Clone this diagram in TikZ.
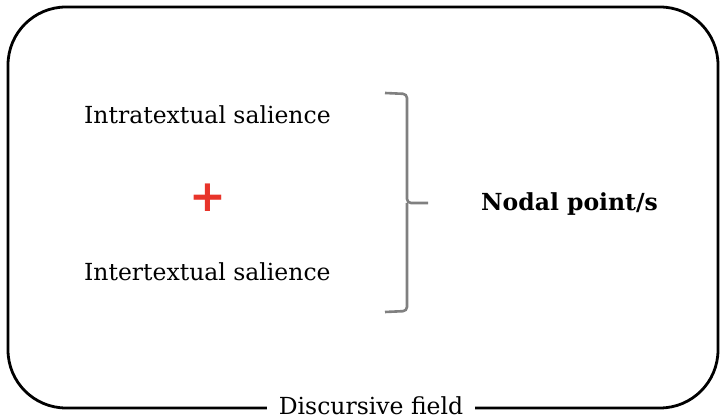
\documentclass[tikz,border=0pt]{standalone}
\usepackage{fontspec}
\setmainfont{DejaVu Serif}
\newfontfamily\plusfont{DejaVu Sans}
\definecolor{plusred}{HTML}{E8342A}
\definecolor{bracegray}{HTML}{808080}
\tikzset{
  label text/.style={font=\fontsize{23.5}{26}\selectfont, inner sep=0pt},
  frame/.style={draw=black, line width=2.8pt, rounded corners=58pt},
  bracket/.style={draw=bracegray, line width=2.6pt, rounded corners=4pt},
}
\begin{document}
\begin{tikzpicture}[x=1pt,y=1pt]
\useasboundingbox (0,0) rectangle (720,419);
% outer field
\draw[frame] (8,11) rectangle (718,412);
\node[label text, fill=white, inner xsep=12pt, inner ysep=4pt] (field) at (371,13) {Discursive field};
% the two kinds of salience
\node[label text, anchor=west] (intra) at (84,304) {Intratextual salience};
\node[label text, anchor=west] (inter) at (84,147) {Intertextual salience};
\node[text=plusred, font=\plusfont\bfseries\fontsize{44}{44}\selectfont, inner sep=0pt] (plus) at (208,221) {+};
% bracket joining them
\coordinate (btop) at (385,326);
\coordinate (bmid) at (407,216);
\coordinate (bbot) at (385,107);
\coordinate (btip) at (428,216);
\draw[bracket] (btop) -- (407,325) -- (bmid) -- (btip);
\draw[bracket] (bbot) -- (407,108) -- (bmid);
\node[label text, font=\fontsize{23.5}{26}\selectfont\bfseries, anchor=west] (nodal) at (481,215) {Nodal point/s};
\end{tikzpicture}
\end{document}
